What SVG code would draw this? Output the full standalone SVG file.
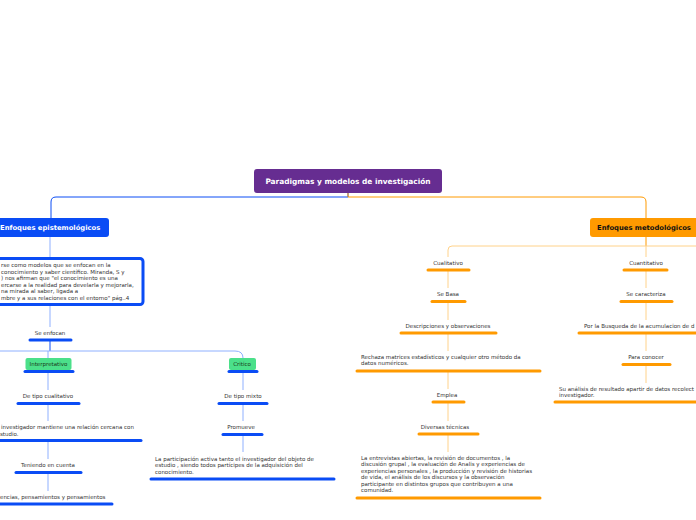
<svg xmlns="http://www.w3.org/2000/svg" width="696" height="520" viewBox="0 0 696 520">
<style>
text{font-family:"DejaVu Sans","Verdana",sans-serif;font-size:5.5px;fill:#333}
.c{text-anchor:middle}
.ub{stroke:#0a4cf5;stroke-width:3;stroke-linecap:round}
.uo{stroke:#ff9a00;stroke-width:3;stroke-linecap:round}
.lb{fill:none;stroke:#8fb0ff;stroke-width:1}
.lo{fill:none;stroke:#ffd28a;stroke-width:1}
.h{font-weight:bold;font-size:6.8px}
</style>
<g id="connectors">
<path d="M348 193 V197 H56 Q51 197 51 202 V218" fill="none" stroke="#0a4cf5" stroke-width="1"/>
<path d="M348 193 V197 H641 Q646 197 646 202 V218" fill="none" stroke="#ff9a00" stroke-width="1"/>
<path class="lb" d="M50 237 V258"/>
<path class="lb" d="M50 305 V327"/>
<path d="M50 340 V351" stroke="#0a4cf5" stroke-width="1"/>
<path class="lb" d="M0 351 H235 Q243 351 243 358"/>
<path class="lb" d="M48 351 V358"/>
<path class="lb" d="M48 372 V390"/>
<path class="lb" d="M48 404 V421"/>
<path class="lb" d="M48 441 V459"/>
<path class="lb" d="M48 473 V491"/>
<path class="lb" d="M243 372 V390"/>
<path class="lb" d="M243 404 V421"/>
<path class="lb" d="M243 435 V452"/>
<path d="M646 237 V246" stroke="#ff9a00" stroke-width="1"/>
<path class="lo" d="M448 257 V250 Q448 246 452 246 H696"/>
<path class="lo" d="M448 271 V288"/>
<path class="lo" d="M448 302 V320"/>
<path class="lo" d="M448 334 V351"/>
<path class="lo" d="M448 372 V389"/>
<path class="lo" d="M448 403 V421"/>
<path class="lo" d="M448 435 V452"/>
<path class="lo" d="M646 246 V257"/>
<path class="lo" d="M646 271 V288"/>
<path class="lo" d="M646 302 V320"/>
<path class="lo" d="M646 334 V351"/>
<path class="lo" d="M646 365 V383"/>
</g>
<g id="main">
<rect x="254" y="169" width="188" height="24" rx="3" fill="#662d91"/>
<text class="c h" x="348" y="183.5" style="fill:#fff;font-size:7.4px">Paradigmas y modelos de investigación</text>
</g>
<g id="epis">
<rect x="-6" y="218" width="115" height="19" rx="3" fill="#0a4cf5"/>
<text class="h" x="0" y="230" style="fill:#fff">Enfoques epistemológicos</text>
</g>
<g id="box">
<rect x="-6" y="258.5" width="149" height="46" rx="3" fill="#fff" stroke="#0a4cf5" stroke-width="3"/>
<text x="1" y="267">rse como modelos que se enfocan en la</text>
<text x="1" y="273.5"> conocimiento y saber científico.  Miranda, S y</text>
<text x="1" y="280">) nos afirman que "el conocimiento es una</text>
<text x="1" y="286.5">ercarse a la realidad para develarla y mejorarla,</text>
<text x="1" y="293">na mirada al saber, ligada a</text>
<text x="1" y="299.5">mbre y a sus relaciones con el entorno" pág..4</text>
</g>
<g id="seenfocan"><text class="c" x="50" y="334.5">Se enfocan</text><line class="ub" x1="30" y1="340" x2="71" y2="340"/></g>
<g id="interp">
<rect x="25.5" y="358" width="46" height="12" rx="2" fill="#4be08a"/>
<text class="c" x="48.5" y="366" style="fill:#1a3a1a">Interpretativo</text>
<line class="ub" x1="25" y1="371.5" x2="73" y2="371.5"/>
</g>
<g id="critico">
<rect x="229" y="358" width="27" height="12" rx="2" fill="#4be08a"/>
<text class="c" x="242" y="366" style="fill:#1a3a1a">Critico</text>
<line class="ub" x1="229" y1="371.5" x2="257" y2="371.5"/>
</g>
<g id="l1"><text class="c" x="48" y="398">De tipo cualitativo</text><line class="ub" x1="18" y1="403.5" x2="79" y2="403.5"/></g>
<g id="l2"><text x="1" y="429">investigador mantiene una relación cercana con</text><text x="0" y="435.5">studio.</text><line class="ub" x1="-2" y1="440.5" x2="141" y2="440.5"/></g>
<g id="l3"><text class="c" x="48" y="467">Teniendo en cuenta</text><line class="ub" x1="16" y1="472.5" x2="81" y2="472.5"/></g>
<g id="l4"><text x="0" y="498.5">encias, pensamientos y pensamientos</text><line class="ub" x1="-2" y1="504" x2="112" y2="504"/></g>
<g id="c1"><text class="c" x="243" y="398">De tipo mixto</text><line class="ub" x1="219" y1="403.5" x2="267" y2="403.5"/></g>
<g id="c2"><text class="c" x="241" y="429">Promueve</text><line class="ub" x1="223" y1="434.5" x2="262" y2="434.5"/></g>
<g id="c3"><text x="155" y="460.5">La participación activa tanto el investigador del objeto de</text><text x="155" y="467">estudio , siendo  todos partícipes de la adquisición del</text><text x="155" y="473.5">conocimiento.</text><line class="ub" x1="151" y1="479" x2="334" y2="479"/></g>
<g id="metod">
<rect x="590" y="218" width="115" height="19" rx="3" fill="#ff9a00"/>
<text class="h" x="597" y="230" style="fill:#111">Enfoques metodológicos</text>
</g>
<g id="q1"><text class="c" x="448" y="265">Cualitativo</text><line class="uo" x1="428" y1="270" x2="469" y2="270"/></g>
<g id="q2"><text class="c" x="448" y="296">Se Basa</text><line class="uo" x1="432" y1="301.5" x2="465" y2="301.5"/></g>
<g id="q3"><text class="c" x="448" y="328">Descripciones y observaciones</text><line class="uo" x1="401" y1="333" x2="496" y2="333"/></g>
<g id="q4"><text x="361" y="358.5">Rechaza matrices  estadísticos y cualquier otro método da</text><text x="361" y="365">datos numéricos.</text><line class="uo" x1="357" y1="371" x2="540" y2="371"/></g>
<g id="q5"><text class="c" x="447" y="396.5">Emplea</text><line class="uo" x1="433" y1="402" x2="464" y2="402"/></g>
<g id="q6"><text class="c" x="445" y="428.5">Diversas técnicas</text><line class="uo" x1="419" y1="434" x2="478" y2="434"/></g>
<g id="q7">
<text x="361" y="459.5">La entrevistas abiertas, la revisión de documentos ,  la</text>
<text x="361" y="466">discusión grupal ,  la evaluación de Analis y experiencias  de</text>
<text x="361" y="472.5">experiencias personales , la producción y revisión de historias</text>
<text x="361" y="479">de vida, el análisis de los discursos y la observación</text>
<text x="361" y="485.5">participante en distintos grupos que contribuyen a una</text>
<text x="361" y="492">comunidad.</text>
<line class="uo" x1="357" y1="498" x2="540" y2="498"/>
</g>
<g id="n1"><text class="c" x="646" y="265">Cuantitativo</text><line class="uo" x1="624" y1="270" x2="667" y2="270"/></g>
<g id="n2"><text class="c" x="646" y="296">Se caracteriza</text><line class="uo" x1="621" y1="301.5" x2="672" y2="301.5"/></g>
<g id="n3"><text x="584" y="328">Por la Busqueda de la acumulacion de d</text><line class="uo" x1="579" y1="333" x2="698" y2="333"/></g>
<g id="n4"><text class="c" x="646" y="359">Para conocer</text><line class="uo" x1="623" y1="364.5" x2="670" y2="364.5"/></g>
<g id="n5"><text x="559" y="390.5">Su análisis de resultado apartir  de datos recolect</text><text x="559" y="397">investigador.</text><line class="uo" x1="555" y1="402" x2="698" y2="402"/></g>
</svg>
